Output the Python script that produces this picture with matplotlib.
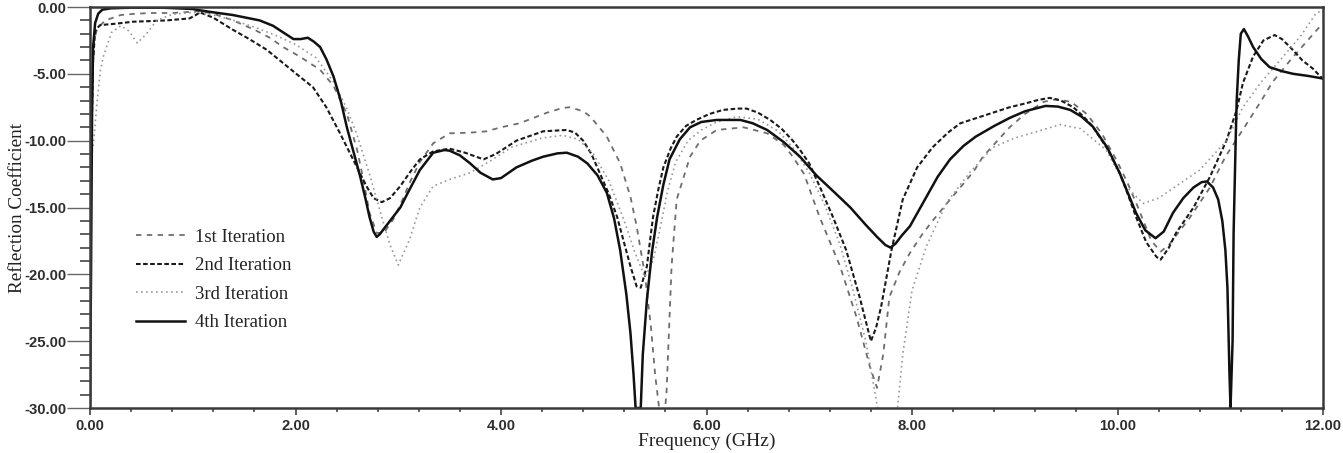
import matplotlib
matplotlib.use("Agg")
import matplotlib.pyplot as plt
from matplotlib.ticker import MultipleLocator, FormatStrFormatter

# ---------------- data ----------------
f4 = [0.0, 0.01, 0.02, 0.03, 0.05, 0.08, 0.12, 0.2, 0.4, 0.7, 1.0, 1.07, 1.2, 1.39, 1.52, 1.65, 1.78, 1.88,
      1.98, 2.05, 2.12, 2.18, 2.24, 2.3, 2.37, 2.44, 2.5, 2.57, 2.63, 2.68, 2.72, 2.76, 2.79, 2.82, 2.9, 3.02,
      3.1, 3.21, 3.34, 3.45, 3.5, 3.6, 3.7, 3.8, 3.92, 4.0, 4.15, 4.3, 4.41, 4.55, 4.64, 4.75, 4.84, 4.94,
      5.03, 5.1, 5.16, 5.22, 5.26, 5.29, 5.31, 5.36, 5.38, 5.42, 5.47, 5.52, 5.58, 5.64, 5.74, 5.84, 5.95,
      6.1, 6.33, 6.45, 6.59, 6.75, 6.91, 7.07, 7.25, 7.4, 7.55, 7.66, 7.74, 7.79, 7.84, 7.9, 7.98, 8.06,
      8.14, 8.25, 8.37, 8.5, 8.62, 8.8, 8.95, 9.1, 9.3, 9.42, 9.54, 9.65, 9.76, 9.9, 10.02, 10.1, 10.18,
      10.27, 10.37, 10.45, 10.54, 10.64, 10.74, 10.82, 10.87, 10.93, 10.98, 11.02, 11.05, 11.07, 11.08,
      11.09, 11.1, 11.12, 11.13, 11.15, 11.16, 11.18, 11.2, 11.23, 11.27, 11.32, 11.4, 11.48, 11.6, 11.71,
      11.85, 12.0]
s4 = [-30, -20, -8, -3, -1.2, -0.5, -0.2, -0.1, -0.05, -0.05, -0.15, -0.25, -0.4, -0.6, -0.8, -1.0, -1.4, -1.9,
      -2.4, -2.4, -2.3, -2.6, -3.0, -3.9, -5.2, -7.0, -9.0, -11.0, -12.7, -14.3, -15.7, -16.8, -17.2, -17.0, -16.2, -15.0,
      -13.8, -12.2, -10.9, -10.7, -10.75, -11.1, -11.7, -12.4, -12.9, -12.8, -12.0, -11.5, -11.2, -10.95, -10.9, -11.2, -11.7, -12.6,
      -13.9, -15.8, -18.2, -21.5, -24.4, -27.5, -30, -30, -26, -21.9, -18.3, -15.7, -13.3, -11.4, -9.9, -9.0, -8.6,
      -8.45, -8.45, -8.7, -9.2, -10.1, -11.2, -12.6, -13.9, -15.0, -16.3, -17.2, -17.8, -18.0, -17.7, -17.1, -16.4, -15.3,
      -14.2, -12.7, -11.4, -10.4, -9.7, -8.9, -8.3, -7.8, -7.4, -7.45, -7.7, -8.2, -8.95, -10.5, -12.4, -13.9, -15.4,
      -16.7, -17.3, -16.8, -15.4, -14.3, -13.5, -13.1, -13.05, -13.5, -14.4, -16.0, -18.2, -21, -24.4,
      -27.5, -30, -25, -16.9, -10, -7.0, -4.0, -2.0, -1.65, -2.2, -3.0, -3.9, -4.5, -4.8, -5.0,
      -5.15, -5.35]

f2 = [0.0, 0.02, 0.03, 0.05, 0.08, 0.1, 0.25, 0.42, 0.6, 0.75, 0.9, 0.97, 1.03, 1.07, 1.2, 1.39, 1.55, 1.72,
      1.88, 2.04, 2.17, 2.3, 2.43, 2.56, 2.69, 2.76, 2.84, 2.92, 3.02, 3.12, 3.21, 3.34, 3.5, 3.65, 3.83, 3.95,
      4.15, 4.41, 4.64, 4.72, 4.8, 4.88, 4.96, 5.05, 5.13, 5.2, 5.26, 5.32, 5.36, 5.42, 5.45, 5.48, 5.53, 5.58,
      5.65, 5.71, 5.8, 5.9, 6.03, 6.16, 6.3, 6.39, 6.5, 6.62, 6.73, 6.84, 6.92, 7.0, 7.1, 7.23, 7.36, 7.49,
      7.55, 7.6, 7.65, 7.7, 7.8, 7.91, 8.05, 8.2, 8.35, 8.47, 8.63, 8.79, 8.95, 9.11, 9.23, 9.34, 9.45, 9.57,
      9.67, 9.76, 9.9, 10.02, 10.1, 10.18, 10.28, 10.38, 10.42, 10.5, 10.57, 10.74, 10.9, 11.06, 11.16, 11.22,
      11.32, 11.42, 11.53, 11.6, 11.68, 11.8, 11.9, 12.0]
s2 = [-11, -8, -4, -1.8, -1.5, -1.35, -1.25, -1.1, -1.05, -1.0, -0.9, -0.85, -0.6, -0.4, -0.8, -1.7, -2.4, -3.2,
      -4.2, -5.2, -6.0, -7.5, -9.4, -11.4, -13.4, -14.3, -14.6, -14.3, -13.4, -12.3, -11.4, -10.8, -10.6, -10.9, -11.4, -11.0,
      -10.0, -9.3, -9.2, -9.4, -10.0, -11.0, -12.4, -14.0, -15.7, -17.7, -19.4, -20.9, -21.0, -19.4, -17.5, -15.7, -13.7, -12.0,
      -10.6, -9.7, -8.9, -8.45, -8.0, -7.7, -7.6, -7.6, -7.9, -8.45, -9.1, -10.0, -10.8, -11.7, -13.4, -15.7, -18.2, -21.7,
      -23.5, -25.0, -24.0, -22.4, -18.2, -14.4, -12.0, -10.5, -9.4, -8.7, -8.3, -7.9, -7.5, -7.2, -6.95, -6.8, -7.0, -7.5,
      -8.2, -8.95, -10.6, -12.4, -14.0, -15.7, -17.6, -18.7, -18.9, -18.0, -16.9, -15.0, -12.7, -10.0, -7.7, -5.7,
      -3.7, -2.5, -2.1, -2.4, -3.0, -4.0, -4.6, -5.4]

f1 = [0.0, 0.02, 0.04, 0.07, 0.15, 0.3, 0.45, 0.6, 0.8, 1.0, 1.07, 1.2, 1.39, 1.6, 1.75, 1.88, 2.04, 2.24,
      2.37, 2.5, 2.6, 2.66, 2.72, 2.79, 2.86, 2.95, 3.02, 3.12, 3.21, 3.34, 3.5, 3.7, 3.86, 4.0, 4.18, 4.45,
      4.6, 4.67, 4.8, 4.87, 5.03, 5.16, 5.26, 5.32, 5.4, 5.46, 5.5, 5.57, 5.61, 5.66, 5.71, 5.84, 5.94, 6.1,
      6.36, 6.59, 6.75, 6.84, 6.95, 7.1, 7.3, 7.46, 7.59, 7.66, 7.72, 7.78, 7.88, 7.98, 8.1, 8.2, 8.35, 8.47,
      8.6, 8.69, 8.82, 8.95, 9.1, 9.28, 9.4, 9.55, 9.7, 9.85, 10.0, 10.1, 10.2, 10.33, 10.42, 10.5, 10.6,
      10.7, 10.9, 11.05, 11.26, 11.4, 11.51, 11.68, 11.85, 12.0]
s1 = [-11, -6, -2.5, -1.6, -1.0, -0.6, -0.5, -0.45, -0.45, -0.35, -0.3, -0.5, -1.0, -1.7, -2.3, -3.0, -3.7, -4.7,
      -5.9, -8.0, -10.7, -12.9, -15.4, -16.9, -16.9, -15.9, -14.8, -13.0, -11.6, -10.2, -9.45, -9.4, -9.3, -9.0, -8.7, -7.9,
      -7.55, -7.5, -7.8, -8.2, -9.7, -11.7, -14.2, -16.4, -20.0, -24.0, -27.5, -32, -29, -19.4, -14.4, -11.2, -10.0, -9.2,
      -9.0, -9.45, -10.3, -11.2, -12.5, -15.7, -19.4, -23.2, -26.9, -28.5, -26.0, -21.7, -19.8, -18.4, -17.0, -16.0, -14.6, -13.5,
      -12.3, -11.2, -10.1, -9.0, -8.0, -7.1, -6.9, -7.1, -8.0, -9.5, -11.6, -13.2, -15.0, -17.5, -18.3, -17.8, -16.8,
      -15.8, -13.5, -11.2, -8.7, -7.0, -5.6, -4.0, -2.5, -1.2]

f3 = [0.0, 0.03, 0.07, 0.1, 0.13, 0.21, 0.3, 0.38, 0.46, 0.55, 0.65, 0.8, 1.0, 1.2, 1.4, 1.6, 1.8, 2.0,
      2.2, 2.37, 2.5, 2.6, 2.72, 2.85, 2.92, 3.0, 3.11, 3.21, 3.34, 3.5, 3.7, 3.9, 4.1, 4.4, 4.6, 4.75,
      4.9, 5.05, 5.2, 5.3, 5.4, 5.48, 5.55, 5.62, 5.7, 5.82, 5.95, 6.1, 6.3, 6.5, 6.7, 6.85, 7.0, 7.15,
      7.3, 7.42, 7.55, 7.62, 7.7, 7.77, 7.84, 7.91, 8.0, 8.14, 8.34, 8.56, 8.79, 9.0, 9.18, 9.44, 9.64,
      9.89, 10.08, 10.25, 10.4, 10.57, 10.8, 11.06, 11.22, 11.39, 11.58, 11.78, 11.93, 12.0]
s3 = [-11.5, -10.5, -7.0, -4.8, -3.7, -1.9, -1.4, -1.8, -2.7, -2.0, -1.0, -0.55, -0.4, -0.6, -1.0, -1.5, -2.1, -2.8,
      -3.8, -5.6, -7.6, -9.6, -12.5, -16.0, -17.8, -19.3, -17.4, -15.0, -13.4, -12.9, -12.4, -11.5, -10.5, -9.8, -9.6, -9.9,
      -11.0, -13.0, -16.0, -18.3, -20.2, -19.0, -16.5, -13.8, -11.6, -10.0, -9.2, -8.6, -8.2, -8.4, -9.3, -10.6, -12.4, -14.8,
      -17.8, -21.0, -25.0, -28.0, -31.5, -33, -31.5, -26.0, -21.2, -17.9, -14.6, -12.4, -10.5, -9.8, -9.4, -8.8, -9.1,
      -10.7, -13.4, -14.7, -14.3, -13.4, -12.2, -10.0, -7.5, -5.7, -4.0, -2.2, -0.5, -0.2]

labels = ["1st Iteration", "2nd Iteration", "3rd Iteration", "4th Iteration"]

# ---------------- figure ----------------
fig = plt.figure(figsize=(13.43, 4.53), dpi=100)
ax = fig.add_axes([90 / 1343, 1 - 408 / 453, (1323 - 90) / 1343, (408 - 7) / 453])

ax.plot(f1, s1, color="#6e6e6e", lw=1.3, linestyle=(0, (3.0, 3.0)), label=labels[0])
ax.plot(f2, s2, color="#1a1a1a", lw=1.5, linestyle=(0, (2.2, 1.2)), label=labels[1])
ax.plot(f3, s3, color="#9a9a9a", lw=1.2, linestyle=(0, (1.0, 2.0)), label=labels[2])
ax.plot(f4, s4, color="#111111", lw=1.8, linestyle="-", label=labels[3])

ax.set_xlim(0, 12)
ax.set_ylim(-30, 0)
ax.xaxis.set_major_locator(MultipleLocator(2))
ax.xaxis.set_minor_locator(MultipleLocator(0.4))
ax.yaxis.set_major_locator(MultipleLocator(5))
ax.yaxis.set_minor_locator(MultipleLocator(1))
ax.xaxis.set_major_formatter(FormatStrFormatter("%.2f"))
ax.yaxis.set_major_formatter(FormatStrFormatter("%.2f"))

for sp in ax.spines.values():
    sp.set_color("#3a3a3a")
    sp.set_linewidth(1.8)

ax.tick_params(axis="y", which="major", direction="out", length=16.5, width=1.0, color="#666666",
               labelsize=10.7, labelcolor="#2e2e2e", pad=0.5)
ax.tick_params(axis="y", which="minor", direction="out", length=7, width=1.2, color="#444444")
ax.tick_params(axis="x", which="major", direction="out", length=5, width=1.2, color="#444444",
               labelsize=10.7, labelcolor="#2e2e2e", pad=3)
ax.tick_params(axis="x", which="minor", direction="out", length=3, width=1.2, color="#444444")
for lab in ax.get_xticklabels() + ax.get_yticklabels():
    lab.set_fontfamily("Liberation Sans")
    lab.set_fontweight("bold")

ax.set_xlabel("Frequency (GHz)", family="Liberation Serif", fontsize=14, color="#222222")
ax.set_ylabel("Reflection Coefficient", family="Liberation Serif", fontsize=13.8, color="#222222")
ax.xaxis.set_label_coords(0.5, -0.062)
ax.yaxis.set_label_coords(-0.052, 0.5)

leg = ax.legend(loc="upper left", bbox_to_anchor=(0.0295, 0.47), frameon=False,
                prop={"family": "Liberation Serif", "size": 13.5}, handlelength=2.65,
                handletextpad=0.5, labelspacing=0.6, borderpad=0)
for t in leg.get_texts():
    t.set_color("#222222")

fig.savefig("out.png", dpi=100, facecolor="white")
